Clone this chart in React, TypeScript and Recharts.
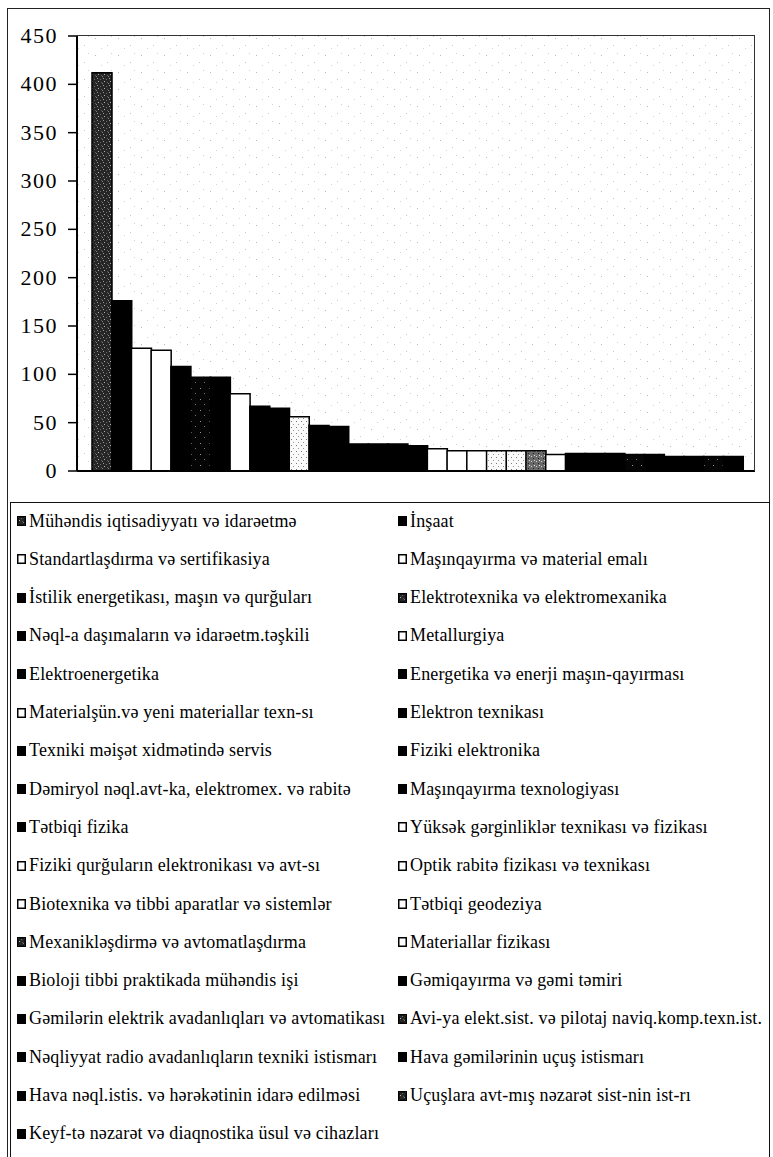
import React from "react";
import { BarChart, Bar, XAxis, YAxis, Cell, CartesianGrid } from "recharts";

const categories: string[] = [
  "Mühəndis iqtisadiyyatı və idarəetmə",
  "İnşaat",
  "Standartlaşdırma və sertifikasiya",
  "Maşınqayırma və material emalı",
  "İstilik energetikası, maşın və qurğuları",
  "Elektrotexnika və elektromexanika",
  "Nəql-a daşımaların və idarəetm.təşkili",
  "Metallurgiya",
  "Elektroenergetika",
  "Energetika və enerji maşın-qayırması",
  "Materialşün.və yeni materiallar texn-sı",
  "Elektron texnikası",
  "Texniki məişət xidmətində servis",
  "Fiziki elektronika",
  "Dəmiryol nəql.avt-ka, elektromex. və rabitə",
  "Maşınqayırma texnologiyası",
  "Tətbiqi fizika",
  "Yüksək gərginliklər texnikası və fizikası",
  "Fiziki qurğuların elektronikası və avt-sı",
  "Optik rabitə fizikası və texnikası",
  "Biotexnika və tibbi aparatlar və sistemlər",
  "Tətbiqi geodeziya",
  "Mexanikləşdirmə  və avtomatlaşdırma",
  "Materiallar fizikası",
  "Bioloji tibbi praktikada mühəndis işi",
  "Gəmiqayırma və gəmi təmiri",
  "Gəmilərin elektrik avadanlıqları və avtomatikası",
  "Avi-ya elekt.sist. və pilotaj naviq.komp.texn.ist.",
  "Nəqliyyat radio avadanlıqların texniki istismarı",
  "Hava gəmilərinin uçuş istismarı",
  "Hava nəql.istis. və hərəkətinin idarə edilməsi",
  "Uçuşlara avt-mış nəzarət sist-nin ist-rı",
  "Keyf-tə nəzarət və diaqnostika üsul və cihazları",
];

const values: number[] = [
  412, 176, 127, 125, 108, 97, 97, 80, 67, 65, 56, 47, 46, 28, 28, 28, 26,
  23, 21, 21, 21, 21, 21, 17, 18, 18, 18, 17, 17, 15, 15, 15, 15,
];

// fill kinds: b = black, w = white, t = dark texture, tb = black texture, d = dotted white, g = grey texture
const kinds: string[] = [
  "t", "b", "w", "w", "b", "tb", "b", "w", "b", "b", "d", "b", "b", "b", "b", "b", "b",
  "w", "w", "w", "d", "d", "g", "w", "b", "b", "b", "tb", "b", "b", "b", "tb", "b",
];

const yTicks: number[] = [0, 50, 100, 150, 200, 250, 300, 350, 400, 450];

const data = categories.map((name, i) => ({ name, value: values[i], kind: kinds[i] }));

const barFill = (k: string) => {
  switch (k) {
    case "b": return "#000";
    case "w": return "#fff";
    case "t": return "url(#texDark)";
    case "tb": return "url(#texBlack)";
    case "d": return "url(#dotsWhite)";
    case "g": return "url(#texGrey)";
    default: return "#000";
  }
};

const swatchFill = (k: string) => {
  if (k === "d") return "#fff";
  if (k === "t" || k === "tb" || k === "g") return "url(#texDark)";
  return barFill(k);
};

const Patterns = () => (
  <defs>
    <pattern id="texDark" width="6" height="7" patternUnits="userSpaceOnUse">
      <rect width="6" height="7" fill="#262626" />
      <rect x="1" y="1" width="1" height="1" fill="#9a9a9a" />
      <rect x="4" y="2" width="1" height="1" fill="#6a6a6a" />
      <rect x="2" y="4" width="1" height="1" fill="#b0b0b0" />
      <rect x="5" y="5" width="1" height="1" fill="#5a5a5a" />
      <rect x="0" y="6" width="1" height="1" fill="#808080" />
    </pattern>
    <pattern id="texBlack" width="9" height="11" patternUnits="userSpaceOnUse">
      <rect width="9" height="11" fill="#050505" />
      <rect x="2" y="3" width="1" height="1" fill="#999" />
      <rect x="6" y="8" width="1" height="1" fill="#777" />
    </pattern>
    <pattern id="dotsWhite" width="5" height="6" patternUnits="userSpaceOnUse">
      <rect width="5" height="6" fill="#fafafa" />
      <rect x="1" y="1" width="1" height="1" fill="#777" />
      <rect x="3" y="4" width="1" height="1" fill="#999" />
    </pattern>
    <pattern id="texGrey" width="5" height="5" patternUnits="userSpaceOnUse">
      <rect width="5" height="5" fill="#6a6a6a" />
      <rect x="1" y="1" width="1" height="1" fill="#d0d0d0" />
      <rect x="3" y="3" width="1" height="1" fill="#222" />
      <rect x="4" y="0" width="1" height="1" fill="#ddd" />
    </pattern>
    <pattern id="speckle" width="23" height="17" patternUnits="userSpaceOnUse">
      <rect width="23" height="17" fill="#fff" />
      <rect x="3" y="4" width="1" height="1" fill="#b8b8b8" />
      <rect x="15" y="11" width="1" height="1" fill="#c8c8c8" />
      <rect x="9" y="14" width="1" height="1" fill="#d4d4d4" />
      <rect x="19" y="2" width="1" height="1" fill="#d0d0d0" />
    </pattern>
  </defs>
);

const serif = "Times New Roman, Liberation Serif, Tinos, DejaVu Serif, serif";

const YTick = (props: any) => {
  const { x, y, payload } = props;
  return (
    <text x={x} y={y} dy={7} textAnchor="end" fill="#000" fontSize={22} letterSpacing={1.5} fontFamily={serif}>
      {payload.value}
    </text>
  );
};

export default function App() {
  const rowStep = 38.3;
  const firstRow = 521;
  return (
    <div style={{ position: "absolute", left: 0, top: 0, width: 773, height: 1157, background: "#fff", overflow: "hidden" }}>
      <div style={{ position: "absolute", left: 7, top: 8, width: 763, height: 1160, border: "1.5px solid #222", boxSizing: "border-box" }} />
      <div style={{ position: "absolute", left: 0, top: 0 }}>
        <BarChart
          width={773}
          height={490}
          data={data}
          margin={{ top: 36, right: 18, left: 0, bottom: 18 }}
          barCategoryGap={0}
          barGap={0}
        >
          <Patterns />
          <CartesianGrid horizontal={false} vertical={false} fill="url(#speckle)" />
          <XAxis
            dataKey="name"
            tick={false}
            tickLine={false}
            height={1}
            padding={{ left: 15, right: 12 }}
            axisLine={{ stroke: "#000", strokeWidth: 2 }}
          />
          <YAxis
            width={77}
            domain={[0, 450]}
            ticks={yTicks}
            interval={0}
            tickSize={9}
            tickMargin={10}
            axisLine={{ stroke: "#000", strokeWidth: 2 }}
            tickLine={{ stroke: "#000", strokeWidth: 1.5 }}
            tick={<YTick />}
          />
          <Bar dataKey="value" isAnimationActive={false} stroke="#000" strokeWidth={1.5}>
            {data.map((d, i) => (
              <Cell key={i} fill={barFill(d.kind)} />
            ))}
          </Bar>
        </BarChart>
      </div>
      <div style={{ position: "absolute", left: 77, top: 35, width: 678, height: 436, border: "1.5px solid #333", borderLeft: "none", borderBottom: "none", boxSizing: "border-box", pointerEvents: "none" }} />
      <div style={{ position: "absolute", left: 10, top: 502, width: 760, height: 700, border: "1.5px solid #111", boxSizing: "border-box" }} />
      {categories.map((c, i) => {
        const col = i % 2;
        const row = Math.floor(i / 2);
        const y = firstRow + row * rowStep;
        const xIcon = col === 0 ? 17 : 398;
        return (
          <div key={i} style={{ position: "absolute", left: xIcon, top: y - 11, height: 22, display: "flex", alignItems: "center", whiteSpace: "nowrap" }}>
            <svg width={9} height={10} style={{ display: "block" }}>
              <rect x={0.75} y={0.75} width={7.5} height={8.5} fill={swatchFill(kinds[i])} stroke="#000" strokeWidth={1.5} />
            </svg>
            <span style={{ marginLeft: 3, fontFamily: serif, fontSize: 18, color: "#000", letterSpacing: 0.15 }}>{c}</span>
          </div>
        );
      })}
    </div>
  );
}
